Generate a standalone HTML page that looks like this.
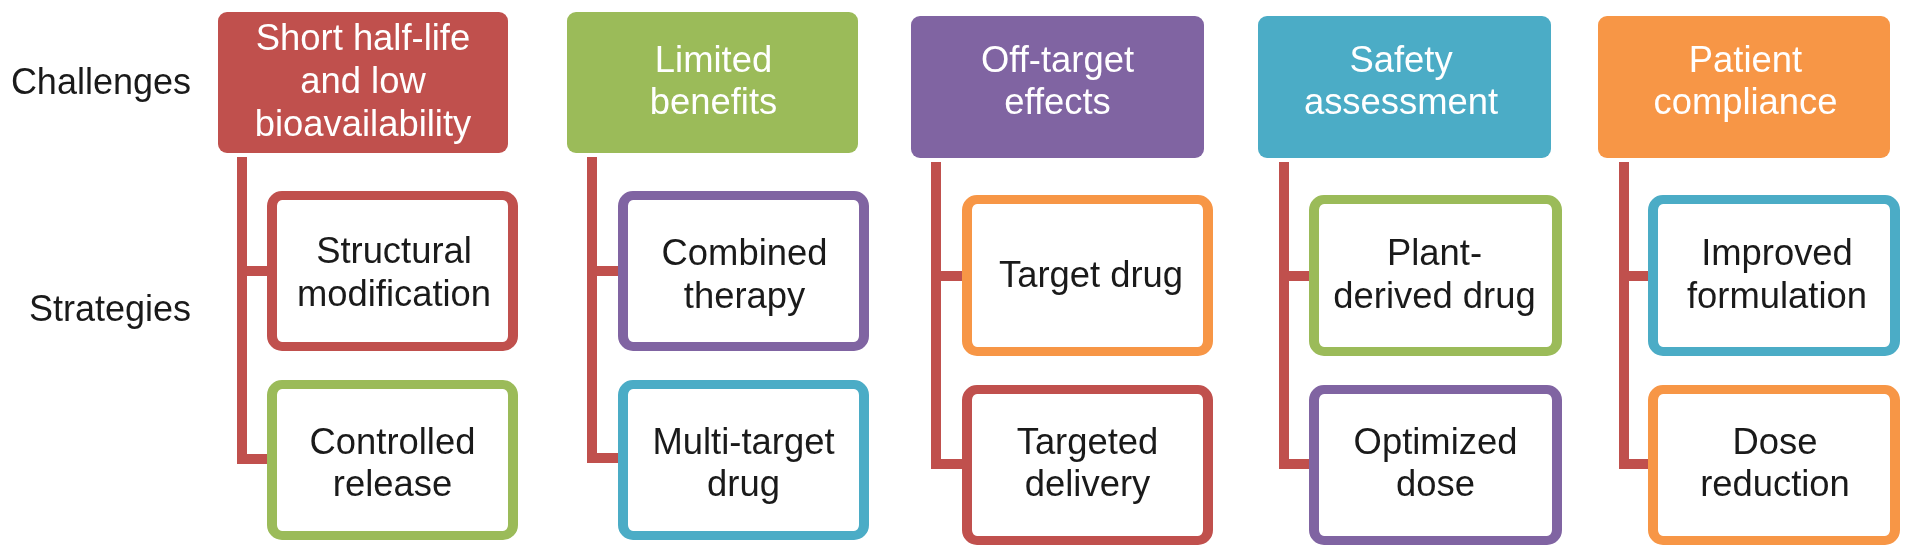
<!DOCTYPE html>
<html><head><meta charset="utf-8"><style>
html,body{margin:0;padding:0;background:#fff;}
body{width:1913px;height:558px;position:relative;overflow:hidden;filter:blur(0.5px);font-family:"Liberation Sans",sans-serif;}
.a{position:absolute;box-sizing:border-box;}
.hd{border-radius:9px;}
.bx{border-radius:15px;background:#fff;border-style:solid;border-width:9px 10px;}
.ln{background:#C0504D;}
.tx{position:absolute;text-align:center;font-size:36.4px;line-height:42.3px;white-space:nowrap;}
.lbl{position:absolute;font-size:36px;line-height:42.3px;color:#1a1a1a;white-space:nowrap;}
</style></head><body>
<div class="lbl" style="right:1722px;top:60.54px;">Challenges</div>
<div class="lbl" style="right:1722px;top:288.04px;">Strategies</div>

<div class="a hd" style="left:218px;top:12px;width:290px;height:141px;background:#C0504D;"></div>
<div class="tx" style="left:218px;width:290px;top:16.14px;color:#fff;line-height:43px;">Short half-life<br>and low<br>bioavailability</div>
<div class="a ln" style="left:237px;top:157px;width:10px;height:306.5px;"></div>
<div class="a ln" style="left:237px;top:266.0px;width:32px;height:10px;"></div>
<div class="a bx" style="left:267px;top:191px;width:251px;height:160px;border-color:#C0504D;"></div>
<div class="tx" style="left:268.5px;width:251px;top:230.04px;color:#1a1a1a;line-height:42.7px;">Structural<br>modification</div>
<div class="a ln" style="left:237px;top:453.5px;width:32px;height:10px;"></div>
<div class="a bx" style="left:267px;top:380px;width:251px;height:160px;border-color:#9BBB59;"></div>
<div class="tx" style="left:267px;width:251px;top:420.54px;color:#1a1a1a;line-height:42.7px;">Controlled<br>release</div>
<div class="a hd" style="left:567px;top:12px;width:291px;height:141px;background:#9BBB59;"></div>
<div class="tx" style="left:568px;width:291px;top:38.84px;color:#fff;">Limited<br>benefits</div>
<div class="a ln" style="left:587px;top:157px;width:10px;height:306.0px;"></div>
<div class="a ln" style="left:587px;top:266.0px;width:33px;height:10px;"></div>
<div class="a bx" style="left:618px;top:191px;width:251px;height:160px;border-color:#8064A2;"></div>
<div class="tx" style="left:619px;width:251px;top:232.04px;color:#1a1a1a;line-height:42.7px;">Combined<br>therapy</div>
<div class="a ln" style="left:587px;top:453.0px;width:33px;height:10px;"></div>
<div class="a bx" style="left:618px;top:380px;width:251px;height:160px;border-color:#4BACC6;"></div>
<div class="tx" style="left:618px;width:251px;top:420.54px;color:#1a1a1a;line-height:42.7px;">Multi-target<br>drug</div>
<div class="a hd" style="left:911px;top:16px;width:293px;height:142px;background:#8064A2;"></div>
<div class="tx" style="left:911px;width:293px;top:38.84px;color:#fff;">Off-target<br>effects</div>
<div class="a ln" style="left:931px;top:162px;width:10px;height:307.0px;"></div>
<div class="a ln" style="left:931px;top:271.0px;width:33px;height:10px;"></div>
<div class="a bx" style="left:962px;top:195px;width:251px;height:161px;border-color:#F79646;"></div>
<div class="tx" style="left:965.5px;width:251px;top:253.89px;color:#1a1a1a;line-height:42.7px;">Target drug</div>
<div class="a ln" style="left:931px;top:459.0px;width:33px;height:10px;"></div>
<div class="a bx" style="left:962px;top:385px;width:251px;height:160px;border-color:#C0504D;"></div>
<div class="tx" style="left:962px;width:251px;top:420.54px;color:#1a1a1a;line-height:42.7px;">Targeted<br>delivery</div>
<div class="a hd" style="left:1258px;top:16px;width:293px;height:142px;background:#4BACC6;"></div>
<div class="tx" style="left:1254.5px;width:293px;top:38.84px;color:#fff;">Safety<br>assessment</div>
<div class="a ln" style="left:1279px;top:162px;width:10px;height:307.0px;"></div>
<div class="a ln" style="left:1279px;top:271.0px;width:32px;height:10px;"></div>
<div class="a bx" style="left:1309px;top:195px;width:253px;height:161px;border-color:#9BBB59;"></div>
<div class="tx" style="left:1308px;width:253px;top:232.04px;color:#1a1a1a;line-height:42.7px;">Plant-<br>derived drug</div>
<div class="a ln" style="left:1279px;top:459.0px;width:32px;height:10px;"></div>
<div class="a bx" style="left:1309px;top:385px;width:253px;height:160px;border-color:#8064A2;"></div>
<div class="tx" style="left:1309px;width:253px;top:420.54px;color:#1a1a1a;line-height:42.7px;">Optimized<br>dose</div>
<div class="a hd" style="left:1598px;top:16px;width:292px;height:142px;background:#F79646;"></div>
<div class="tx" style="left:1599.5px;width:292px;top:38.84px;color:#fff;">Patient<br>compliance</div>
<div class="a ln" style="left:1619px;top:162px;width:10px;height:307.0px;"></div>
<div class="a ln" style="left:1619px;top:271.0px;width:31px;height:10px;"></div>
<div class="a bx" style="left:1648px;top:195px;width:252px;height:161px;border-color:#4BACC6;"></div>
<div class="tx" style="left:1651px;width:252px;top:232.04px;color:#1a1a1a;line-height:42.7px;">Improved<br>formulation</div>
<div class="a ln" style="left:1619px;top:459.0px;width:31px;height:10px;"></div>
<div class="a bx" style="left:1648px;top:385px;width:252px;height:160px;border-color:#F79646;"></div>
<div class="tx" style="left:1649px;width:252px;top:420.54px;color:#1a1a1a;line-height:42.7px;">Dose<br>reduction</div>
</body></html>
